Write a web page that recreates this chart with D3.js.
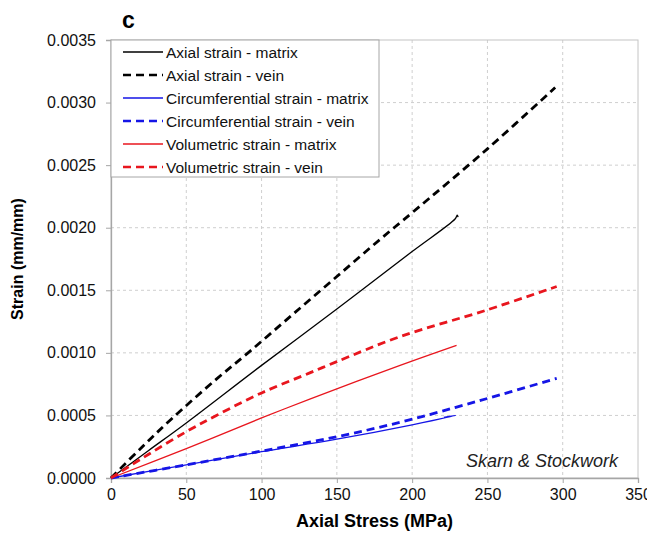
<!DOCTYPE html>
<html>
<head>
<meta charset="utf-8">
<script src="https://cdn.jsdelivr.net/npm/d3@7"></script>
<style>
body{margin:0;background:#fff;}
svg text{font-family:"Liberation Sans",Arial,sans-serif;}
</style>
</head>
<body>
<div id="chart"></div>
<script>
// values (stress in MPa, strain in mm/mm)
var axialMatrixStress=[0,25,50,100,150,200,228.5,230,230.5];
var axialMatrixStrain=[0,0.00022,0.00044,0.00090,0.00135,0.00181,0.00207,0.00210,0.002085];
var axialVeinStress=[0,20,40,70,92,120,150,180,200,250,295];
var axialVeinStrain=[0,0.00024,0.00047,0.00079,0.00101,0.00130,0.00161,0.00192,0.00212,0.00263,0.00312];
var circMatrixStress=[0,50,100,150,200,229,221];
var circMatrixStrain=[0,0.000105,0.00021,0.00031,0.000425,0.0005,0.000485];
var circVeinStress=[0,50,100,150,192,229,260,296];
var circVeinStrain=[0,0.000105,0.000215,0.00033,0.000445,0.000565,0.00067,0.000796];
var volMatrixStress=[0,50,100,132,192,229.5];
var volMatrixStrain=[0,0.000235,0.00048,0.00063,0.0009,0.00106];
var volVeinStress=[0,25,50,70,100,132,150,192,249,296];
var volVeinStrain=[0,0.00019,0.00037,0.0005,0.00068,0.00084,0.00093,0.00113,0.00134,0.00153];

var seriesNames=["Axial strain - matrix","Axial strain - vein","Circumferential strain - matrix","Circumferential strain - vein","Volumetric strain - matrix","Volumetric strain - vein"];
var xTicks=[0,50,100,150,200,250,300,350];
var yTicks=[0,0.0005,0.0010,0.0015,0.0020,0.0025,0.0030,0.0035];

var width=647, height=534;
var padL=111, padR=638, padT=40, padB=478; // plot area edges in pixels

var pairs=function(xs,ys){ return xs.map(function(x,i){return [x,ys[i]];}); };
var series=[
	{name:seriesNames[0],pts:pairs(axialMatrixStress,axialMatrixStrain),color:"#000000",dash:null,w:1.3},
	{name:seriesNames[1],pts:pairs(axialVeinStress,axialVeinStrain),color:"#000000",dash:"8,5",w:2.8},
	{name:seriesNames[2],pts:pairs(circMatrixStress,circMatrixStrain),color:"#1515e6",dash:null,w:1.3},
	{name:seriesNames[3],pts:pairs(circVeinStress,circVeinStrain),color:"#1515e6",dash:"8,5",w:2.8},
	{name:seriesNames[4],pts:pairs(volMatrixStress,volMatrixStrain),color:"#e8161e",dash:null,w:1.3},
	{name:seriesNames[5],pts:pairs(volVeinStress,volVeinStrain),color:"#e8161e",dash:"8,5",w:2.8}
];

var svg=d3.select("#chart").append("svg").attr("width",width).attr("height",height);

var x=d3.scaleLinear().domain([0,350]).range([padL,padR]);
var y=d3.scaleLinear().domain([0,0.0035]).range([padB,padT]);

// grid
var grid=svg.append("g").attr("class","grid");
grid.selectAll("line.v").data(xTicks.slice(1,-1)).enter().append("line")
	.attr("x1",function(d){return x(d);}).attr("x2",function(d){return x(d);})
	.attr("y1",padT).attr("y2",padB)
	.attr("stroke","#cfcfcf").attr("stroke-dasharray","3,3");
grid.selectAll("line.h").data(yTicks.slice(1,-1)).enter().append("line")
	.attr("y1",function(d){return y(d);}).attr("y2",function(d){return y(d);})
	.attr("x1",padL).attr("x2",padR)
	.attr("stroke","#cfcfcf").attr("stroke-dasharray","3,3");

// plot area border
svg.append("rect").attr("x",padL).attr("y",padT).attr("width",padR-padL).attr("height",padB-padT)
	.attr("fill","none").attr("stroke","#c4c4c4");

// axes
var xAxis=svg.append("g").attr("transform","translate(0,"+padB+")")
	.call(d3.axisBottom(x).tickValues(xTicks).tickSize(5).tickPadding(6).tickFormat(d3.format("d")));
var yAxis=svg.append("g").attr("transform","translate("+padL+",0)")
	.call(d3.axisLeft(y).tickValues(yTicks).tickSize(5).tickPadding(10).tickFormat(d3.format(".4f")));
[xAxis,yAxis].forEach(function(a){
	a.select(".domain").attr("stroke","#a6a6a6").attr("stroke-width",1.3);
	a.selectAll(".tick line").attr("stroke","#a6a6a6");
	a.selectAll(".tick text").attr("fill","#111").style("font-size","16px");
});

// lines, smoothed like the spreadsheet curves
var line=d3.line().curve(d3.curveCatmullRom.alpha(0.5))
	.x(function(d){return x(d[0]);}).y(function(d){return y(d[1]);});
svg.append("g").selectAll("path").data(series).enter().append("path")
	.attr("d",function(d){return line(d.pts);})
	.attr("fill","none")
	.attr("stroke",function(d){return d.color;})
	.attr("stroke-width",function(d){return d.w;})
	.attr("stroke-dasharray",function(d){return d.dash;});

// legend
var lg=svg.append("g").attr("transform","translate("+padL+","+padT+")");
lg.append("rect").attr("x",0).attr("y",0).attr("width",268).attr("height",137)
	.attr("fill","#fff").attr("stroke","#a6a6a6");
var rows=lg.selectAll("g.row").data(series).enter().append("g")
	.attr("transform",function(d,i){return "translate(0,"+(12+i*23)+")";});
rows.append("line").attr("x1",12).attr("x2",52).attr("y1",0).attr("y2",0)
	.attr("stroke",function(d){return d.color;})
	.attr("stroke-width",function(d){return d.dash?2.5:1.3;})
	.attr("stroke-dasharray",function(d){return d.dash?"8,5":null;});
rows.append("text").attr("x",55).attr("y",5.5).style("font-size","15.5px").attr("fill","#111")
	.text(function(d){return d.name;});

// titles
svg.append("text").attr("x",x(0)+11).attr("y",28).style("font-size","23px").style("font-weight","bold").text("c");
svg.append("text").attr("x",(padL+padR)/2).attr("y",527).attr("text-anchor","middle")
	.style("font-size","18px").style("font-weight","bold").text("Axial Stress (MPa)");
svg.append("text").attr("transform","translate(23,"+((padT+padB)/2)+") rotate(-90)").attr("text-anchor","middle")
	.style("font-size","16px").style("font-weight","bold").text("Strain (mm/mm)");
svg.append("text").attr("x",618).attr("y",467).attr("text-anchor","end")
	.style("font-size","18px").style("font-style","italic").attr("fill","#222").text("Skarn & Stockwork");
</script>
</body>
</html>
